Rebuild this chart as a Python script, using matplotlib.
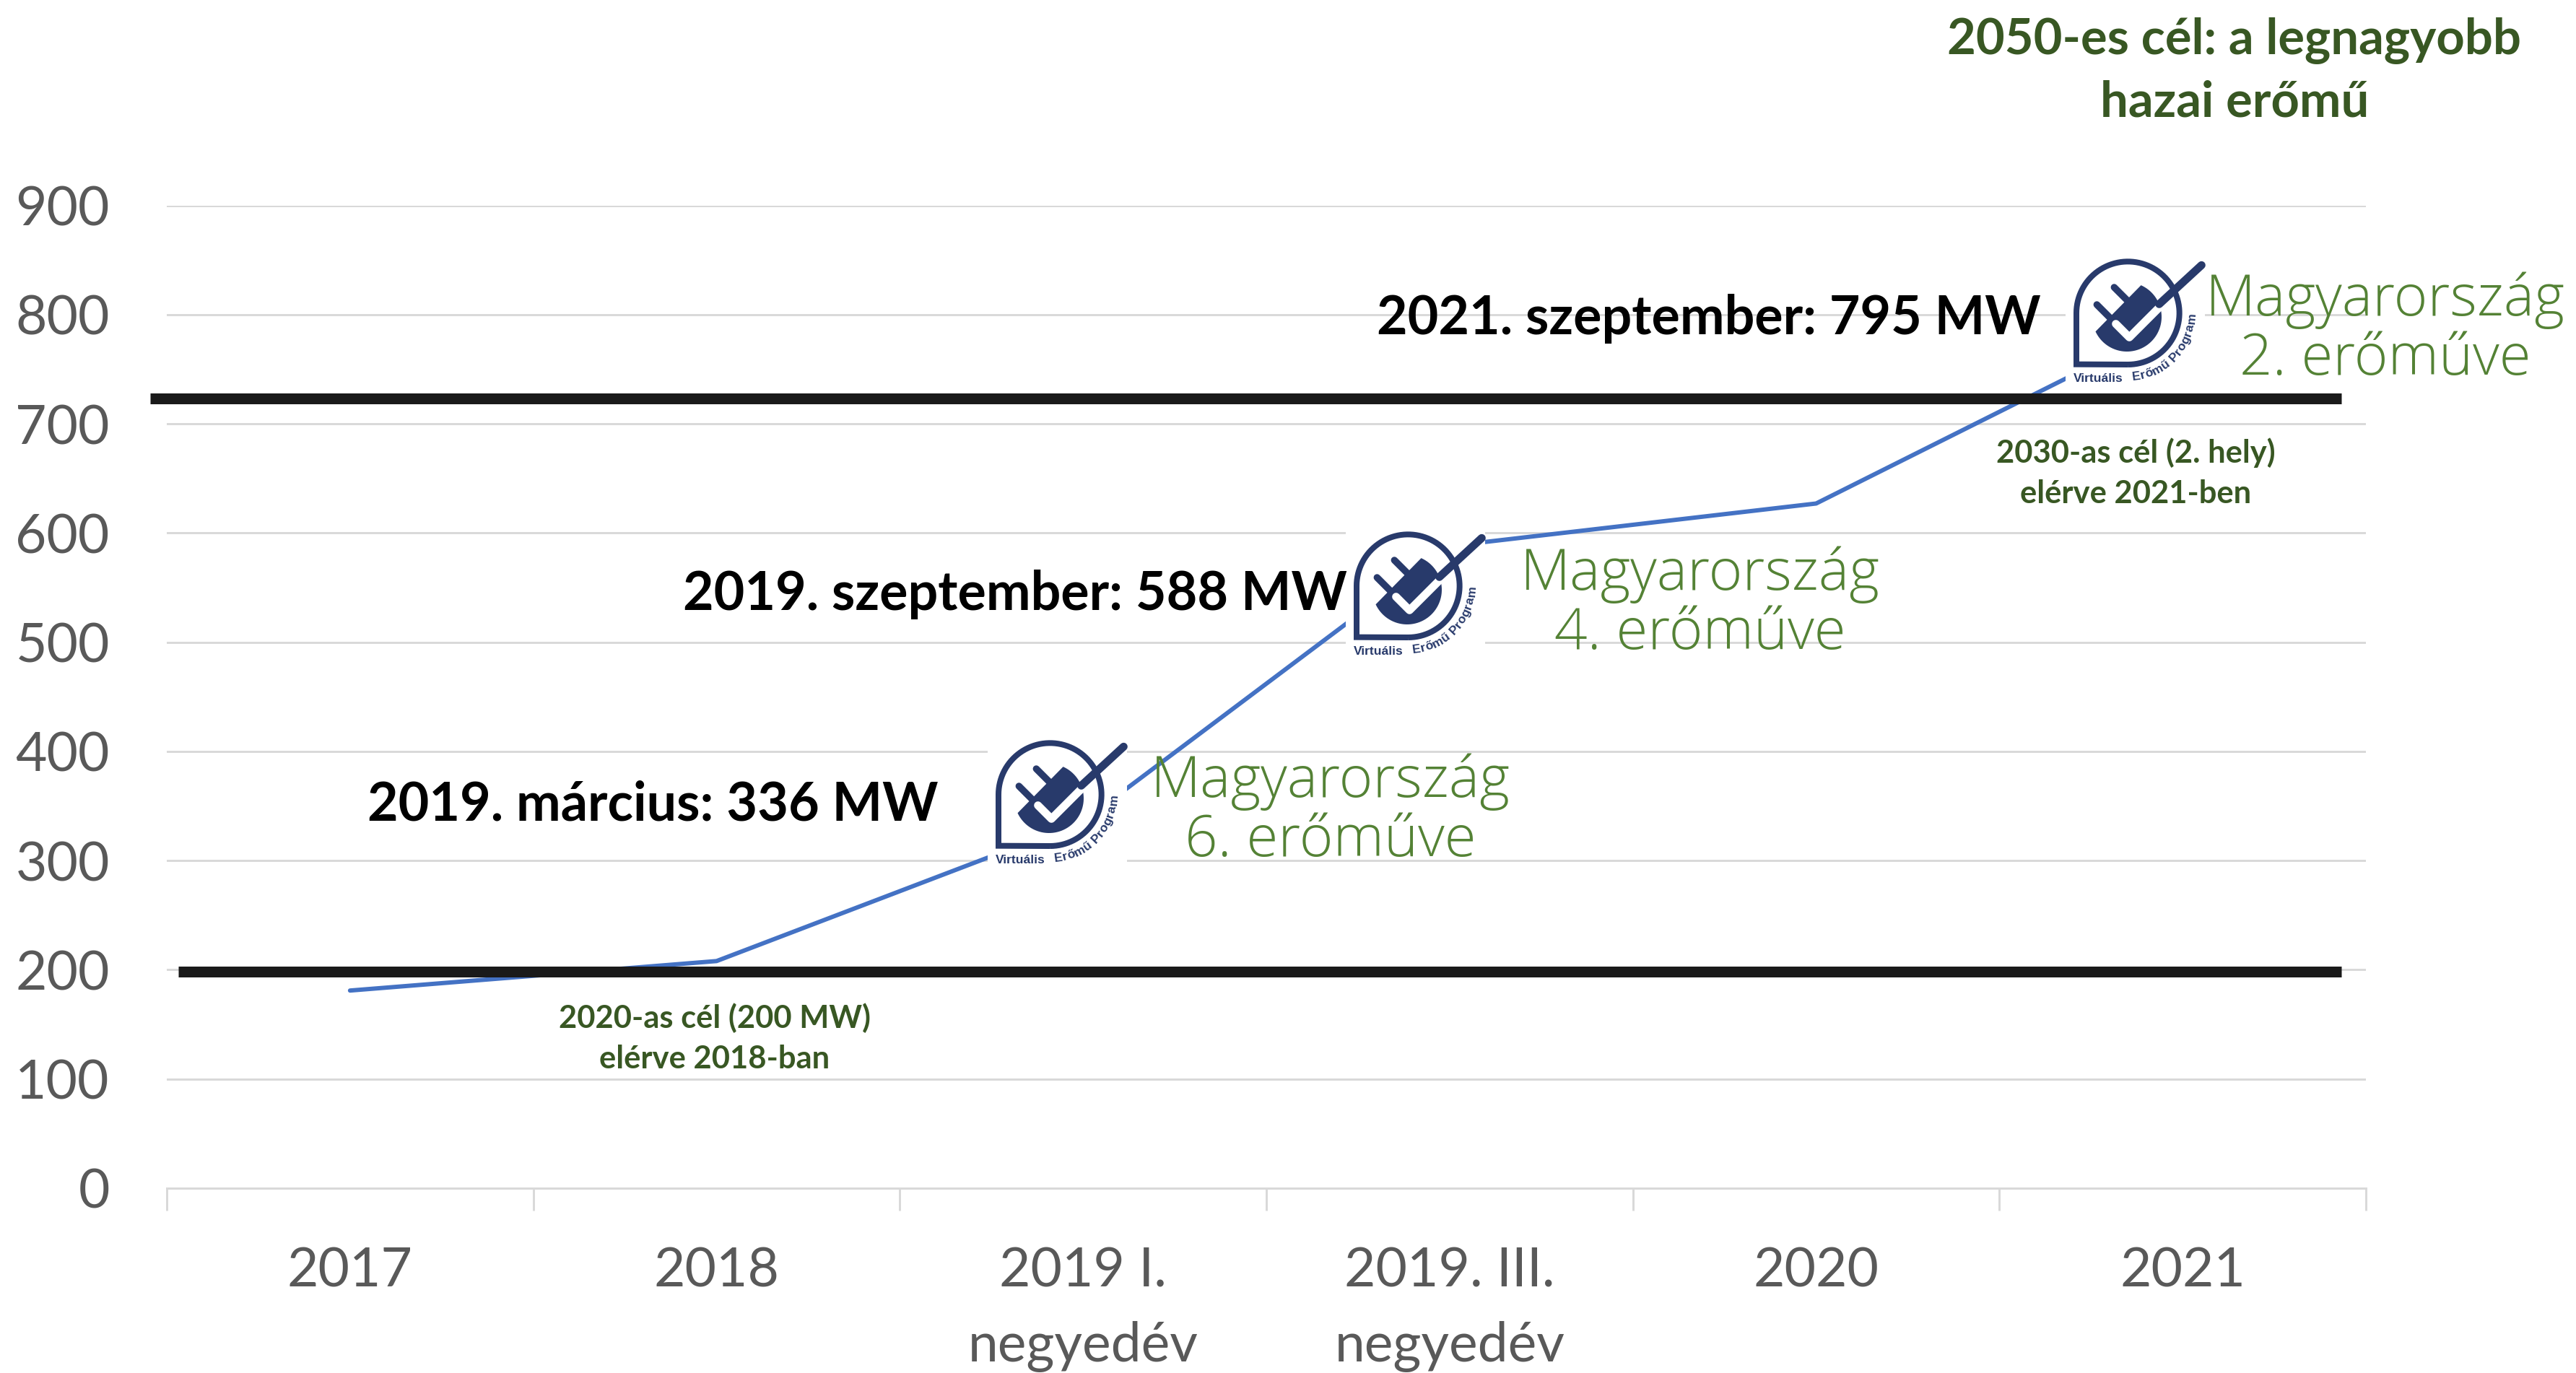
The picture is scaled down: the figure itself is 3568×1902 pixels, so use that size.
import numpy as np
import matplotlib
matplotlib.use('AGG')
import matplotlib.pyplot as plt
from matplotlib.patches import Polygon, Rectangle
from matplotlib.textpath import TextPath
from matplotlib.font_manager import FontProperties

categories = ['2017', '2018', '2019 I.\nnegyedév', '2019. III.\nnegyedév', '2020', '2021']
capacity_mw = [181, 208, 336, 588, 627, 795]
y_ticks = [0, 100, 200, 300, 400, 500, 600, 700, 800, 900]
target_2020 = 198
target_2030 = 723

NAVY = '#283a6b'
DARK_GREEN = '#385723'
GREEN = '#548235'
W, H = 3568, 1902
PT = 0.72  # px to pt at dpi 100

plt.rcParams['font.family'] = ['Lato', 'DejaVu Sans']

fig = plt.figure(figsize=(W / 100, H / 100), dpi=100, facecolor='white')
ax = fig.add_axes([231 / W, 1 - 1646 / H, (3277 - 231) / W, (1646 - 284.5) / H])
ax.set_xlim(-0.5, 5.5)
ax.set_ylim(0, 900)
for name in ['top', 'left', 'right']:
    ax.spines[name].set_visible(False)
ax.spines['bottom'].set_color('#d9d9d9')
ax.spines['bottom'].set_linewidth(3 * PT)

ax.set_yticks(y_ticks)
ax.tick_params(axis='y', length=0, labelsize=54, labelcolor='#595959', pad=57)
ax.grid(axis='y', color='#d9d9d9', lw=3 * PT, zorder=0)
ax.set_axisbelow(True)

# ticks sit between the categories, labels on them
ax.set_xticks(np.arange(-0.5, 6, 1))
ax.set_xticklabels([])
ax.tick_params(axis='x', which='major', length=31 / 1.39, width=3 * PT, color='#d9d9d9')
ax.set_xticks(range(len(categories)), minor=True)
ax.set_xticklabels(categories, minor=True, linespacing=1.62)
ax.tick_params(axis='x', which='minor', length=0, labelsize=54, labelcolor='#595959', pad=58)

ax.plot(range(len(categories)), capacity_mw, color='#4472c4', lw=6 * PT, zorder=2,
        solid_capstyle='round', solid_joinstyle='round')
ax.plot([-0.545, 5.433], [target_2030, target_2030], color='#1a1a1a', lw=15 * PT,
        solid_capstyle='butt', clip_on=False, zorder=3)
ax.plot([-0.469, 5.433], [target_2020, target_2020], color='#1a1a1a', lw=15 * PT,
        solid_capstyle='butt', clip_on=False, zorder=3)

# overlay in pixel coords for the logos and the callouts
ov = fig.add_axes([0, 0, 1, 1], zorder=5)
ov.set_xlim(0, W)
ov.set_ylim(H, 0)
ov.axis('off')
ov.patch.set_alpha(0)


def draw_logo(x0, y0):
    def px(u, v):
        return x0 + (np.asarray(u, float) - 236) / 3, y0 + (np.asarray(v, float) - 228) / 3

    ov.add_patch(Rectangle((x0 - 11, y0 - 12), 193, 184, fc='white', ec='none', zorder=1))

    # drop outline
    t = np.radians(np.linspace(-90, 180, 80))
    us = np.r_[462 + 214 * np.cos(t), 248, 462]
    vs = np.r_[452 - 214 * np.sin(t), 665, 666]
    xs, ys = px(us, vs)
    ov.plot(xs, ys, color=NAVY, lw=8 * PT, solid_joinstyle='miter', solid_capstyle='butt', zorder=2)

    # plug head
    t = np.radians(np.linspace(66, -155, 60))
    xs, ys = px(458 + 144 * np.cos(t), 468 - 144 * np.sin(t))
    ov.add_patch(Polygon(np.c_[xs, ys], fc=NAVY, ec='none', zorder=2))

    # prongs
    for us, vs in [([405, 470], [345, 410]), ([333, 398], [417, 482])]:
        xs, ys = px(us, vs)
        ov.plot(xs, ys, color=NAVY, lw=9.5 * PT, solid_capstyle='round', zorder=2)

    # check mark, white part inside the head and navy stroke out of it
    xs, ys = px([412, 468, 600], [497, 553, 421])
    ov.plot(xs, ys, color='white', lw=11 * PT, solid_capstyle='round', solid_joinstyle='round', zorder=3)
    xs, ys = px([592, 768], [415, 253])
    ov.plot(xs, ys, color=NAVY, lw=11 * PT, solid_capstyle='round', zorder=3)

    # caption, straight start then bending round the drop
    fp = FontProperties(family='Liberation Sans', weight='bold', size=12.5)
    xs, ys = px(236, 738)
    ov.text(xs, ys, 'Virtuális', fontproperties=fp, color=NAVY, ha='left', va='baseline', zorder=3)
    word = 'Erőmű Program'
    widths = [TextPath((0, 0), c, prop=fp).get_extents().width + 1.5 if c != ' ' else 3.5 for c in word]
    total = sum(widths)
    pos = 0
    for c, w in zip(word, widths):
        a = -86 + 86 * (pos + w / 2) / total
        pos += w
        xs, ys = px(462 + 266 * np.cos(np.radians(a)), 452 - 266 * np.sin(np.radians(a)))
        ov.text(xs, ys, c, fontproperties=fp, color=NAVY, ha='center', va='center',
                rotation=a + 90, rotation_mode='anchor', zorder=3)


draw_logo(1379, 1026)
draw_logo(1875, 737)
draw_logo(2872, 359)

# callouts, dates in black
ov.text(1360 * 2.2755, 43.5 * 2.2755, '2050-es cél: a legnagyobb\nhazai erőmű', color=DARK_GREEN, fontsize=49.5,
        fontweight='bold', ha='center', va='center', linespacing=1.42)
for x, y, s in [(1242, 194, '2021. szeptember: 795 MW'),
                (820, 362, '2019. szeptember: 588 MW'),
                (571, 490, '2019. március: 336 MW')]:
    ov.text(x * 2.2755, y * 2.2755, s, color='black', fontsize=53, fontweight='bold', ha='right', va='center')
for x, y, s in [(810, 494, 'Magyarország\n6. erőműve'),
                (1035, 368, 'Magyarország\n4. erőműve'),
                (1452, 201, 'Magyarország\n2. erőműve')]:
    ov.text(x * 2.2755, y * 2.2755, s, color=GREEN, fontsize=57.5, family='Open Sans', fontweight='light',
            ha='center', va='center', linespacing=1.05)
for x, y, s in [(435, 632, '2020-as cél (200 MW)\nelérve 2018-ban'),
                (1300, 288, '2030-as cél (2. hely)\nelérve 2021-ben')]:
    ov.text(x * 2.2755, y * 2.2755, s, color=DARK_GREEN, fontsize=31.3, fontweight='bold', ha='center', va='center',
            linespacing=1.5)

fig.savefig('out.png', dpi=100)
